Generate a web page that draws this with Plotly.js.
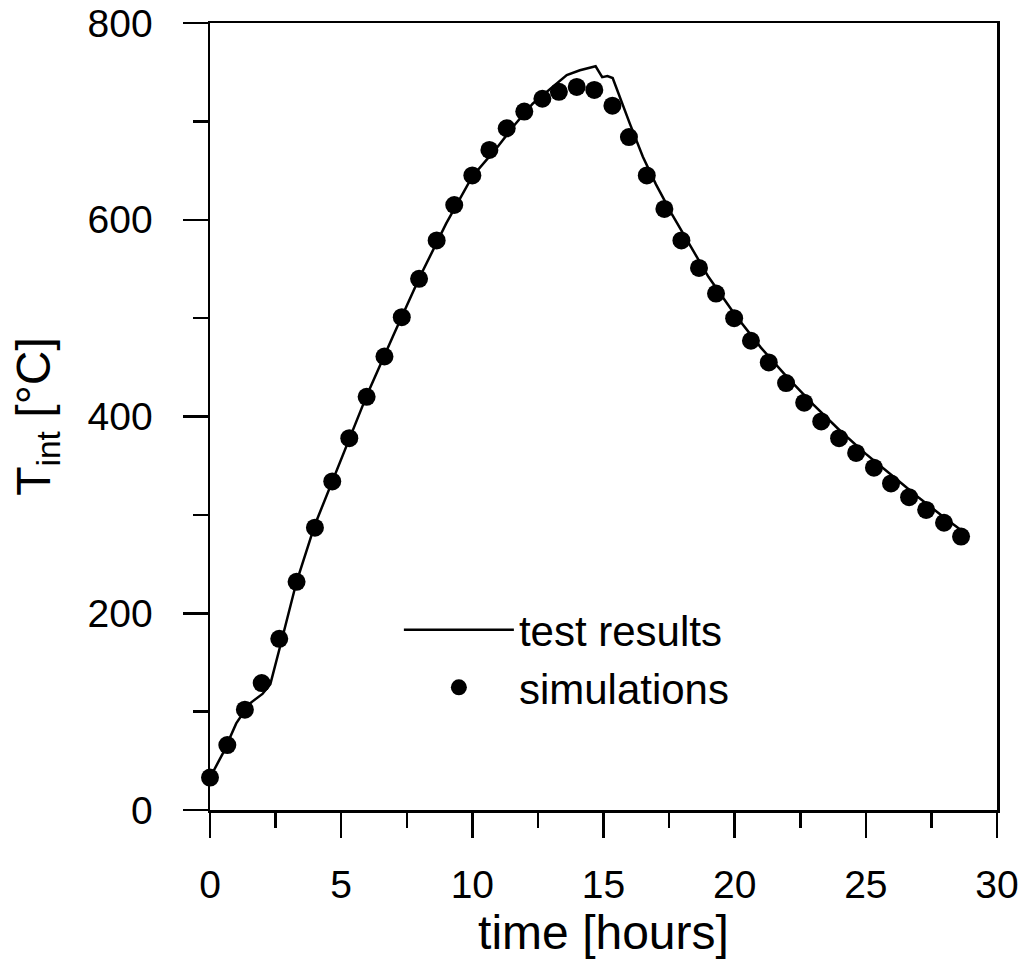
<!DOCTYPE html>
<html>
<head>
<meta charset="utf-8">
<script src="https://cdn.plot.ly/plotly-3.0.1.min.js"></script>
<style>
  html, body { margin: 0; padding: 0; background: #ffffff; }
  #chart { width: 1026px; height: 962px; }
</style>
</head>
<body>
<div id="chart"></div>
<script>
// Test results (measured interface temperature)
const testTime = [0, 0.5, 1.0, 1.5, 2.0, 2.3, 2.67, 3.0, 3.3, 4, 5, 6, 7, 8, 9, 10, 10.9, 11.6, 12.3, 13, 13.6, 14.1, 14.7, 14.95, 15.15, 15.35, 15.6, 16.0, 16.5, 17.0, 17.6, 18, 19, 20, 21, 22, 23, 24, 25, 26, 27, 28, 28.7];
const testTemp = [33, 58, 88, 108, 118, 128, 166, 200, 232, 290, 356, 423, 483, 542, 596, 644, 672, 696, 718, 734, 747, 752, 756, 745, 746, 744, 726, 698, 664, 636, 606, 588, 542, 504, 470, 440, 412, 386, 362, 340, 318, 297, 283];

// Simulations
const simTime = [0, 0.66, 1.33, 1.97, 2.64, 3.3, 4.0, 4.66, 5.31, 5.97, 6.65, 7.31, 7.97, 8.64, 9.31, 10.0, 10.65, 11.31, 11.98, 12.67, 13.3, 13.98, 14.65, 15.34, 15.97, 16.65, 17.32, 17.97, 18.64, 19.29, 19.98, 20.62, 21.3, 21.96, 22.65, 23.3, 23.98, 24.63, 25.31, 25.96, 26.65, 27.3, 27.98, 28.63];
const simTemp = [33, 66, 102, 129, 174, 232, 287, 334, 378, 420, 461, 501, 540, 579, 615, 645, 671, 693, 710, 723, 730, 735, 732, 716, 684, 645, 611, 579, 551, 525, 500, 477, 455, 434, 414, 395, 378, 363, 348, 332, 318, 305, 292, 278];

const seriesNames = ["test results", "simulations"];

const FONT = "Liberation Sans, Arial, sans-serif";

const traces = [
  {
    x: testTime, y: testTemp, name: seriesNames[0],
    type: "scatter", mode: "lines",
    line: { color: "#000000", width: 2.5 },
    cliponaxis: false
  },
  {
    x: simTime, y: simTemp, name: seriesNames[1],
    type: "scatter", mode: "markers",
    marker: { color: "#000000", size: 18, symbol: "circle" },
    cliponaxis: false
  }
];

const axisCommon = {
  showgrid: false, zeroline: false,
  showline: true, linecolor: "#000000", linewidth: 2.5,
  mirror: true,
  ticks: "outside", ticklen: 25, tickwidth: 2.5, tickcolor: "#000000",
  tickfont: { family: FONT, size: 39, color: "#000000" }
};

const layout = {
  width: 1026, height: 962,
  paper_bgcolor: "#ffffff", plot_bgcolor: "#ffffff",
  margin: { l: 210, r: 29, t: 23, b: 152 },
  font: { family: FONT, color: "#000000" },
  xaxis: Object.assign({}, axisCommon, {
    range: [0, 30], dtick: 5, tick0: 0,
    ticklabelstandoff: 14,
    minor: { dtick: 2.5, ticks: "outside", ticklen: 15, tickwidth: 2.5, tickcolor: "#000000", showgrid: false },
    title: { text: "time [hours]", font: { family: FONT, size: 48, color: "#000000" }, standoff: 4 }
  }),
  yaxis: Object.assign({}, axisCommon, {
    range: [0, 800], dtick: 200, tick0: 0,
    ticklabelstandoff: 22,
    minor: { dtick: 100, ticks: "outside", ticklen: 15, tickwidth: 2.5, tickcolor: "#000000", showgrid: false },
    title: { text: "T<sub>int</sub> [°C]", font: { family: FONT, size: 48, color: "#000000" }, standoff: 22 }
  }),
  showlegend: true,
  legend: {
    x: 0.240, y: 0.272, xanchor: "left", yanchor: "top",
    bgcolor: "rgba(0,0,0,0)", borderwidth: 0,
    font: { family: FONT, size: 42, color: "#000000" },
    itemwidth: 110,
    tracegroupgap: 0
  }
};

Plotly.newPlot("chart", traces, layout, { displayModeBar: false, staticPlot: true });
</script>
</body>
</html>
